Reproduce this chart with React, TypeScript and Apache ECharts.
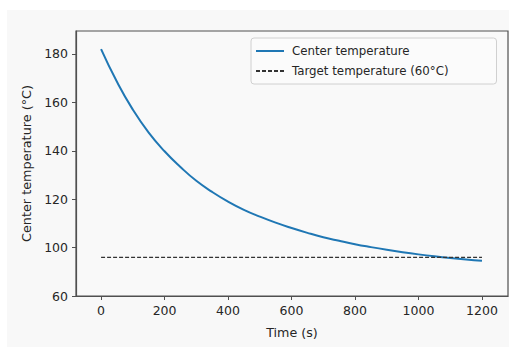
import React, { useEffect, useRef } from "react";
import * as echarts from "echarts";

const timeSeconds = [0, 50, 100, 150, 200, 250, 300, 350, 400, 450, 500, 550, 600, 650, 700, 750, 800, 850, 900, 950, 1000, 1050, 1100, 1150, 1200];
const centerTemperature = [182, 168.5, 157, 147.5, 139.8, 133.3, 127.6, 123, 119, 115.6, 112.8, 110.3, 108.1, 106.1, 104.3, 102.8, 101.4, 100.2, 99.1, 98.1, 97.2, 96.4, 95.7, 95.1, 94.6];
const targetTime = [0, 1200];
const targetTemperature = [96, 96];
const xTickValues = [0, 200, 400, 600, 800, 1000, 1200];
const yTickValues = [80, 100, 120, 140, 160, 180];
const yTickLabels = ["60", "100", "120", "140", "160", "180"];
const seriesNames = ["Center temperature", "Target temperature (60\u00b0C)"];

const FONT = "'DejaVu Sans', sans-serif";
const TEXT = "#262626";
const AXIS = "#505050";

export default function App() {
  const ref = useRef<HTMLDivElement>(null);
  useEffect(() => {
    if (!ref.current) return;
    const chart = echarts.init(ref.current, null, { renderer: "svg" });
    chart.setOption({
      animation: false,
      backgroundColor: "#ffffff",
      textStyle: { fontFamily: FONT },
      graphic: [
        {
          type: "rect",
          z: -10,
          silent: true,
          shape: { x: 7, y: 10, width: 502, height: 337 },
          style: { fill: "#f8f8f8" },
        },
      ],
      grid: {
        left: 76,
        top: 31,
        right: 6,
        bottom: 51,
        show: true,
        borderColor: AXIS,
        borderWidth: 1.2,
        backgroundColor: "#f9f9f9",
      },
      legend: {
        orient: "vertical",
        left: 251,
        top: 38,
        padding: [7, 48, 7, 4],
        itemWidth: 28,
        itemHeight: 10,
        itemGap: 8,
        backgroundColor: "#fbfbfb",
        borderColor: "#d0d0d0",
        borderWidth: 1,
        borderRadius: 3,
        itemStyle: { opacity: 0 },
        textStyle: { fontFamily: FONT, fontSize: 11.8, color: TEXT, padding: [0, 0, 0, 3] },
        data: seriesNames,
      },
      xAxis: {
        type: "value",
        min: -79,
        max: 1282,
        name: "Time (s)",
        nameLocation: "middle",
        nameGap: 30,
        nameTextStyle: { fontFamily: FONT, fontSize: 12.7, color: TEXT },
        axisLine: { show: true, onZero: false, lineStyle: { color: AXIS, width: 1.2 } },
        axisTick: { show: true, length: 4, customValues: xTickValues, lineStyle: { color: AXIS } },
        axisLabel: {
          customValues: xTickValues,
          margin: 8,
          fontFamily: FONT,
          fontSize: 12.5,
          color: TEXT,
          formatter: (v: number) => String(v),
        },
        splitLine: { show: false },
      },
      yAxis: {
        type: "value",
        min: 80,
        max: 189.5,
        name: "Center temperature (\u00b0C)",
        nameLocation: "middle",
        nameGap: 41,
        nameTextStyle: { fontFamily: FONT, fontSize: 12.8, color: TEXT },
        axisLine: { show: true, onZero: false, lineStyle: { color: AXIS, width: 1.2 } },
        axisTick: { show: true, length: 4, customValues: yTickValues, lineStyle: { color: AXIS } },
        axisLabel: {
          customValues: yTickValues,
          margin: 8,
          fontFamily: FONT,
          fontSize: 12.5,
          color: TEXT,
          formatter: (v: number) => {
            const i = yTickValues.indexOf(v);
            return i >= 0 ? yTickLabels[i] : "";
          },
        },
        splitLine: { show: false },
      },
      series: [
        {
          name: seriesNames[0],
          type: "line",
          smooth: true,
          symbol: "none",
          data: timeSeconds.map((t, i) => [t, centerTemperature[i]]),
          lineStyle: { color: "#1f77b4", width: 2 },
          itemStyle: { color: "#1f77b4" },
        },
        {
          name: seriesNames[1],
          type: "line",
          symbol: "none",
          data: targetTime.map((t, i) => [t, targetTemperature[i]]),
          lineStyle: { color: "#333", width: 1.2, type: [4, 2] },
          itemStyle: { color: "#333" },
        },
      ],
    });
    return () => chart.dispose();
  }, []);
  return (
    <div
      ref={ref}
      style={{ position: "fixed", left: 0, top: 0, width: 514, height: 347, background: "#fff" }}
    />
  );
}
